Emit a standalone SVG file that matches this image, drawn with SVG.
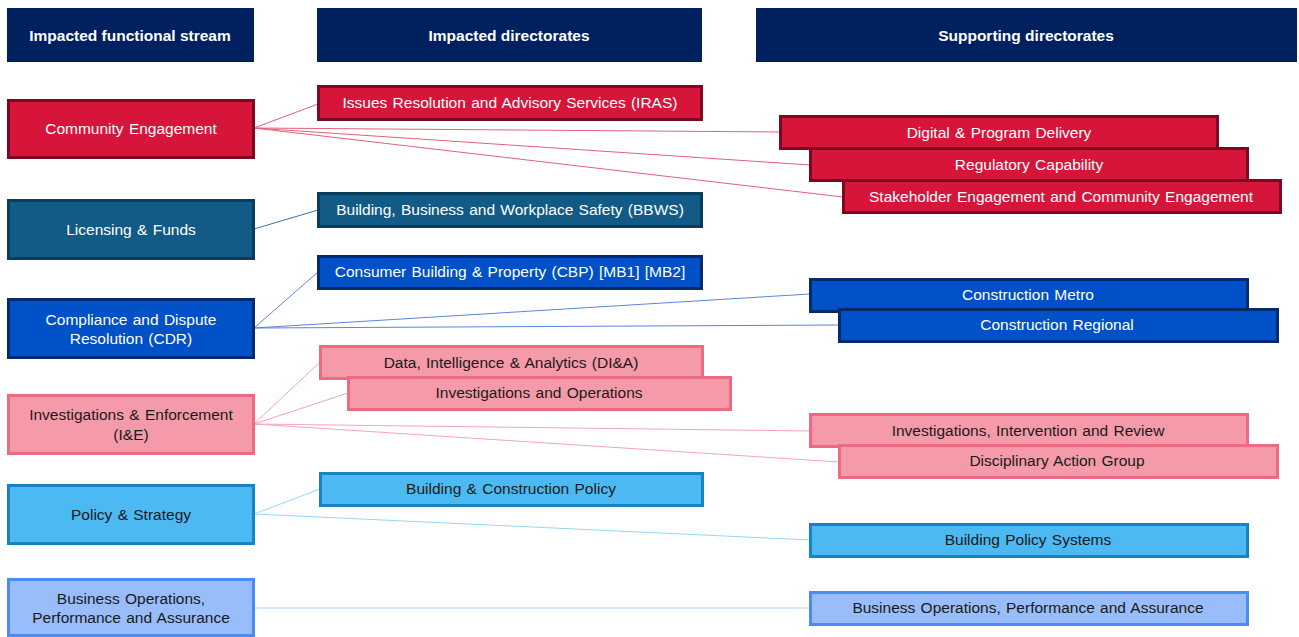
<svg xmlns="http://www.w3.org/2000/svg" width="1299" height="637" viewBox="0 0 1299 637">
<style>
text{font-family:"Liberation Sans",Arial,sans-serif;font-size:15.5px;word-spacing:1px;text-anchor:middle;dominant-baseline:central}
.hd rect{fill:#002060}
.hd text{fill:#fff;font-weight:bold;font-size:15.5px;word-spacing:0}
.b rect{stroke-width:3}
.ce rect{fill:#D7153A;stroke:#7A0A22}
.lf rect{fill:#125B86;stroke:#0A3D5C}
.cdr rect{fill:#0050C8;stroke:#062A70}
.ie rect{fill:#F49AA8;stroke:#EE6A82}
.ps rect{fill:#4DB9F2;stroke:#1684C4}
.bo rect{fill:#98BDFA;stroke:#4A8BF5}
.ce text,.lf text,.cdr text{fill:#fff}
.ie text,.ps text,.bo text{fill:#1a1a1a}
#connectors line{stroke-width:1}
</style>
<rect width="1299" height="637" fill="#fff"/>
<g id="connectors">
<g stroke="#E2607C">
<line x1="254" y1="128" x2="318" y2="104"/>
<line x1="254" y1="128" x2="780" y2="132"/>
<line x1="254" y1="128" x2="810" y2="165"/>
<line x1="254" y1="128" x2="843" y2="197"/>
</g>
<line x1="254" y1="229" x2="318" y2="210" stroke="#3A76A0"/>
<g stroke="#5A86DC">
<line x1="254" y1="328" x2="318" y2="272"/>
<line x1="254" y1="328" x2="810" y2="294"/>
<line x1="254" y1="328" x2="839" y2="325"/>
</g>
<g stroke="#F4A6B4">
<line x1="254" y1="424" x2="320" y2="362"/>
<line x1="254" y1="424" x2="348" y2="393"/>
<line x1="254" y1="424" x2="810" y2="431"/>
<line x1="254" y1="424" x2="839" y2="462"/>
</g>
<g stroke="#94D8F2">
<line x1="254" y1="514" x2="320" y2="489"/>
<line x1="254" y1="514" x2="810" y2="540"/>
</g>
<line x1="254" y1="608" x2="810" y2="608" stroke="#AAD0F8"/>
</g>
<g id="hdr1" class="hd"><rect x="7" y="8" width="247" height="54"/><text x="130" y="35">Impacted functional stream</text></g>
<g id="hdr2" class="hd"><rect x="317" y="8" width="385" height="54"/><text x="509" y="35">Impacted directorates</text></g>
<g id="hdr3" class="hd"><rect x="756" y="8" width="541" height="54"/><text x="1026" y="35">Supporting directorates</text></g>

<g id="community-engagement" class="b ce"><rect x="8.5" y="100.5" width="245" height="57"/><text x="131" y="128">Community Engagement</text></g>
<g id="licensing-funds" class="b lf"><rect x="8.5" y="200.5" width="245" height="58"/><text x="131" y="229">Licensing &amp; Funds</text></g>
<g id="cdr" class="b cdr"><rect x="8.5" y="299.5" width="245" height="58"/><text x="131" y="319">Compliance and Dispute</text><text x="131" y="338">Resolution (CDR)</text></g>
<g id="ie" class="b ie"><rect x="8.5" y="395.5" width="245" height="58"/><text x="131" y="414">Investigations &amp; Enforcement</text><text x="131" y="434">(I&amp;E)</text></g>
<g id="policy-strategy" class="b ps"><rect x="8.5" y="485.5" width="245" height="58"/><text x="131" y="514">Policy &amp; Strategy</text></g>
<g id="business-ops" class="b bo"><rect x="8.5" y="579.5" width="245" height="56"/><text x="131" y="598">Business Operations,</text><text x="131" y="617">Performance and Assurance</text></g>

<g id="iras" class="b ce"><rect x="318.5" y="86.5" width="383" height="33"/><text x="510" y="102">Issues Resolution and Advisory Services (IRAS)</text></g>
<g id="bbws" class="b lf"><rect x="318.5" y="193.5" width="383" height="33"/><text x="510" y="209">Building, Business and Workplace Safety (BBWS)</text></g>
<g id="cbp" class="b cdr"><rect x="318.5" y="256.5" width="383" height="32"/><text x="510" y="271">Consumer Building &amp; Property (CBP) [MB1] [MB2]</text></g>
<g id="dia" class="b ie"><rect x="320.5" y="346.5" width="382" height="32"/><text x="511" y="362">Data, Intelligence &amp; Analytics (DI&amp;A)</text></g>
<g id="inv-ops" class="b ie"><rect x="348.5" y="377.5" width="382" height="32"/><text x="539" y="392">Investigations and Operations</text></g>
<g id="bcp" class="b ps"><rect x="320.5" y="473.5" width="382" height="32"/><text x="511" y="488">Building &amp; Construction Policy</text></g>

<g id="digital" class="b ce"><rect x="780.5" y="116.5" width="437" height="32"/><text x="999" y="132">Digital &amp; Program Delivery</text></g>
<g id="regulatory" class="b ce"><rect x="810.5" y="148.5" width="437" height="32"/><text x="1029" y="164">Regulatory Capability</text></g>
<g id="stakeholder" class="b ce"><rect x="843.5" y="180.5" width="437" height="32"/><text x="1061" y="196">Stakeholder Engagement and Community Engagement</text></g>
<g id="metro" class="b cdr"><rect x="810.5" y="279.5" width="437" height="32"/><text x="1028" y="294">Construction Metro</text></g>
<g id="regional" class="b cdr"><rect x="839.5" y="309.5" width="438" height="32"/><text x="1057" y="324">Construction Regional</text></g>
<g id="iir" class="b ie"><rect x="810.5" y="414.5" width="437" height="32"/><text x="1028" y="430">Investigations, Intervention and Review</text></g>
<g id="dag" class="b ie"><rect x="839.5" y="445.5" width="438" height="32"/><text x="1057" y="460">Disciplinary Action Group</text></g>
<g id="bps" class="b ps"><rect x="810.5" y="524.5" width="437" height="32"/><text x="1028" y="539">Building Policy Systems</text></g>
<g id="bopa" class="b bo"><rect x="810.5" y="592.5" width="437" height="32"/><text x="1028" y="607">Business Operations, Performance and Assurance</text></g>
</svg>
